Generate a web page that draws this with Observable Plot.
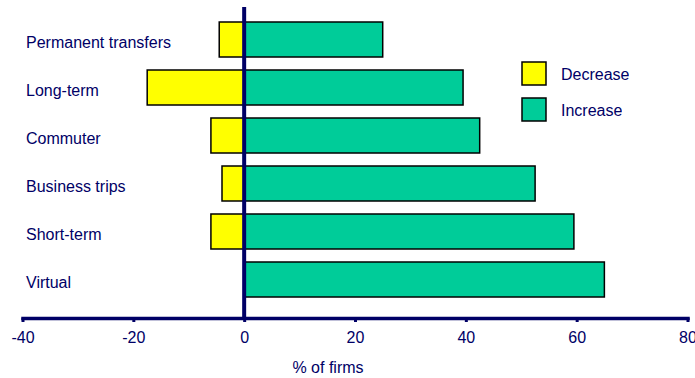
<!DOCTYPE html>
<html>
<head>
<meta charset="utf-8">
<script src="https://cdn.jsdelivr.net/npm/d3@7"></script>
<script src="https://cdn.jsdelivr.net/npm/@observablehq/plot@0.6"></script>
<style>
  html, body { margin: 0; padding: 0; background: #fff; }
  body { font-family: "Liberation Sans", Arial, sans-serif; }
  #wrap { position: relative; width: 695px; height: 378px; }
  .lg-swatches { position: absolute; left: 522px; top: 62px; margin: 0;
    font-family: "Liberation Sans", Arial, sans-serif; font-size: 16px; color: #000066; }
  .lg-swatch { padding-bottom: 13px; }
  .lg-swatch-label { position: relative; top: 1px; }
  .lg-swatch > svg { margin-right: 15px; }
  .lg-swatch svg rect { stroke: #000; stroke-width: 1.5px; }
</style>
</head>
<body>
<div id="wrap"></div>
<script>
const categories = ["Permanent transfers", "Long-term", "Commuter", "Business trips", "Short-term", "Virtual"];
const decrease = [-4.5, -17.5, -6, -4, -6, 0];
const increase = [25, 39.5, 42.5, 52.5, 59.5, 65];
const seriesNames = ["Decrease", "Increase"];
const xTicks = [-40, -20, 0, 20, 40, 60, 80];
const xLabel = "% of firms";

const navy = "#000066";
const colors = ["#FFFF00", "#00CC99"];

const rows = [];
categories.forEach((c, i) => {
  if (decrease[i] !== 0) rows.push({cat: c, type: "Decrease", value: decrease[i]});
  rows.push({cat: c, type: "Increase", value: increase[i]});
});

const chart = Plot.plot({
  width: 695,
  height: 378,
  marginLeft: 22.5,
  marginRight: 7.5,
  marginTop: 7,
  marginBottom: 60,
  style: {fontFamily: "'Liberation Sans', Arial, sans-serif", fontSize: "16px", color: navy, background: "#fff"},
  x: {domain: [-40, 80]},
  y: {domain: categories, range: [14.35, 304.6], paddingInner: 0.275, paddingOuter: 0.1375, axis: null},
  color: {domain: seriesNames, range: colors},
  marks: [
    Plot.barX(rows, {x1: 0, x2: "value", y: "cat", fill: "type", stroke: "#000", strokeWidth: 1.5}),
    Plot.ruleX([0], {stroke: navy, strokeWidth: 4, dx: -0.5}),
    Plot.frame({anchor: "bottom", stroke: navy, strokeWidth: 3.5}),
    Plot.axisX({ticks: xTicks, tickSize: 4, tickPadding: 9.5, stroke: navy, strokeWidth: 3,
      tickFormat: d => String(d), label: null, fontSize: 16}),
    Plot.text(categories, {y: d => d, frameAnchor: "left", textAnchor: "start", dx: 3, dy: 3, fontSize: 16, fill: navy}),
    Plot.text([xLabel], {frameAnchor: "bottom", text: d => d, dx: -27.5, dy: 54, lineAnchor: "bottom", fontSize: 16, fill: navy})
  ]
});

const wrap = document.getElementById("wrap");
wrap.appendChild(chart);
const legend = Plot.legend({
  color: {domain: seriesNames, range: colors},
  legend: "swatches",
  columns: 1,
  swatchWidth: 24,
  swatchHeight: 23,
  className: "lg"
});
wrap.appendChild(legend);
</script>
</body>
</html>
